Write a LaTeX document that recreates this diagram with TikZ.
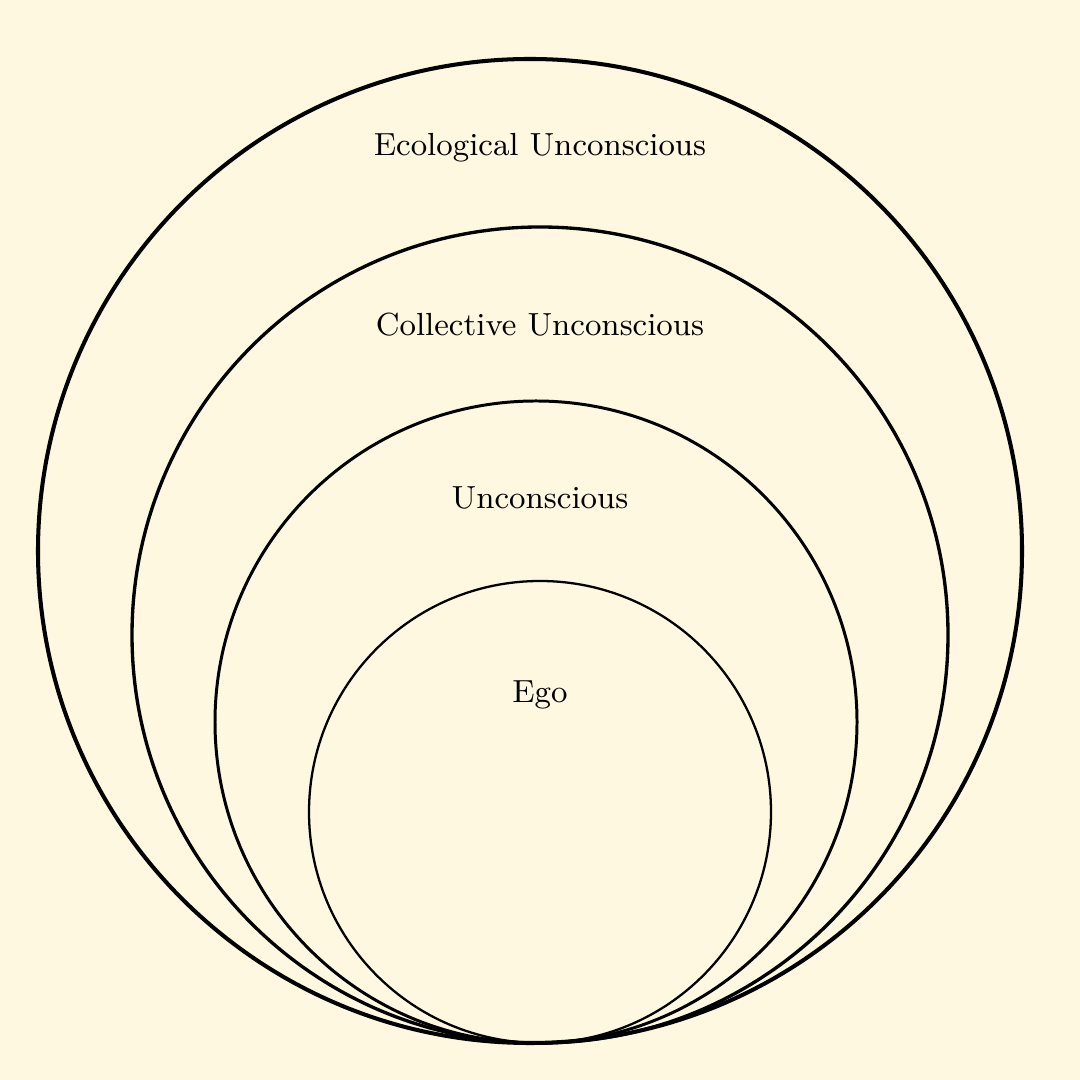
\documentclass[tikz,border=0pt]{standalone}
\usepackage{xcolor,tikz}
\definecolor{cream}{RGB}{253,248,223}

\begin{document}
\begin{tikzpicture}[font=\fontsize{9.1}{11}\selectfont,ring/.style={draw,circle,inner sep=0pt},lbl/.style={inner sep=1pt}]
\fill[cream] (0,0) rectangle (10.8,10.8);
\useasboundingbox (0,0) rectangle (10.8,10.8);
\node[ring,line width=1.15pt,minimum size=9.84cm] (eco) at (5.30,5.29) {};
\node[ring,line width=0.95pt,minimum size=8.16cm] (coll) at (5.40,4.45) {};
\node[ring,line width=0.85pt,minimum size=6.42cm] (unc) at (5.36,3.58) {};
\node[ring,line width=0.65pt,minimum size=4.62cm] (ego) at (5.40,2.68) {};
\node[lbl] (ecot) at (5.40,9.32) {Ecological Unconscious};
\node[lbl] (collt) at (5.40,7.55) {Collective Unconscious};
\node[lbl] (unct) at (5.40,5.82) {Unconscious};
\node[lbl] (egot) at (5.40,3.85) {Ego};
\end{tikzpicture}
\end{document}
